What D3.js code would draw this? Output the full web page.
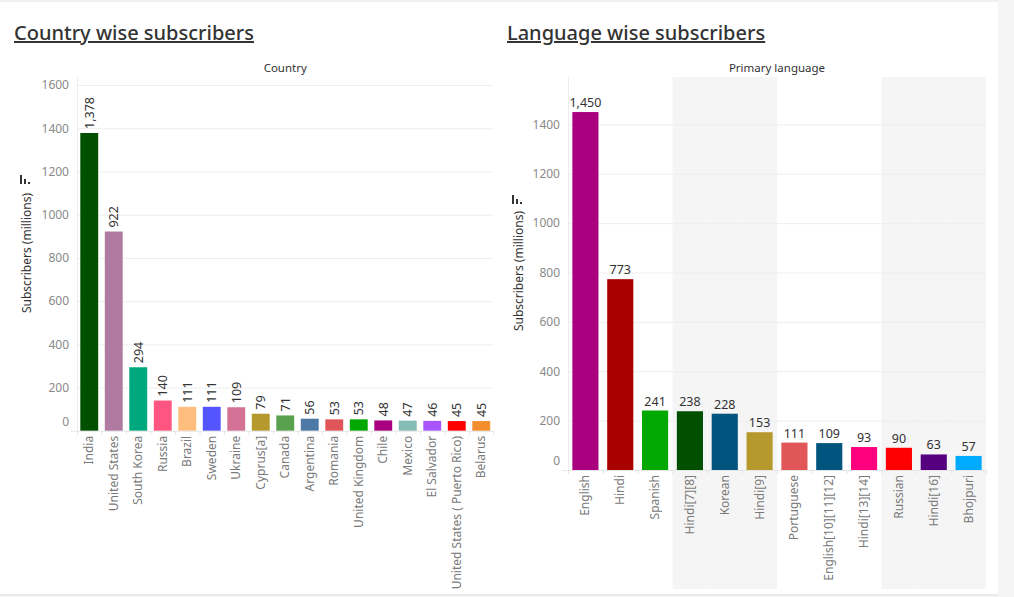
<!DOCTYPE html>
<html><head><meta charset="utf-8">
<script src="https://cdn.jsdelivr.net/npm/d3@7/dist/d3.min.js"></script>
<style>
html,body{margin:0;padding:0;background:#fff;}
svg{display:block;font-family:"Noto Sans",sans-serif;}
</style></head><body>
<svg id="c" width="1014" height="597"></svg>
<script>
const countries = ["India","United States","South Korea","Russia","Brazil","Sweden","Ukraine","Cyprus[a]","Canada","Argentina","Romania","United Kingdom","Chile","Mexico","El Salvador","United States ( Puerto Rico)","Belarus"];
const countryValues = [1378,922,294,140,111,111,109,79,71,56,53,53,48,47,46,45,45];
const countryColors = ["#005000","#b07aa1","#00a87e","#ff5580","#ffbe7d","#5555ff","#d37295","#b6992d","#59a14f","#4e79a7","#e15759","#00a800","#a8007e","#86bcb6","#a855ff","#ff0000","#f28e2b"];
const countryTicks = [0,200,400,600,800,1000,1200,1400,1600];

const languages = ["English","Hindi","Spanish","Hindi[7][8]","Korean","Hindi[9]","Portuguese","English[10][11][12]","Hindi[13][14]","Russian","Hindi[16]","Bhojpuri"];
const languageValues = [1450,773,241,238,228,153,111,109,93,90,63,57];
const languageColors = ["#a8007e","#a80000","#00a800","#005000","#00557f","#b6992d","#e15759","#00557f","#ff007f","#ff0000","#55007f","#00aaff"];
const languageTicks = [0,200,400,600,800,1000,1200,1400];
const languageShaded = [3,4,5,9,10,11];

const svg = d3.select("#c");
// page frame
svg.append("rect").attr("x",0).attr("y",0).attr("width",1014).attr("height",2).attr("fill","#f0f0f0");
svg.append("rect").attr("x",998).attr("y",0).attr("width",16).attr("height",597).attr("fill","#f5f5f5");
svg.append("rect").attr("x",0).attr("y",594.5).attr("width",998).attr("height",1).attr("fill","#cfcfcf");
svg.append("rect").attr("x",0).attr("y",595.5).attr("width",998).attr("height",2).attr("fill","#f3f3f3");

function chart(o){
  const g = svg.append("g");
  // title
  g.append("text").attr("x",o.titleX).attr("y",40).attr("font-size",20).attr("fill","#333")
    .attr("font-weight",500).attr("text-decoration","underline").text(o.title);
  const x = d3.scaleBand().domain(o.cats).range([o.x0,o.x1]).paddingInner(o.pad).paddingOuter(o.pad/2);
  const y = d3.scaleLinear().domain([0,o.ymax]).range([o.yb,77]);
  // header
  g.append("text").attr("x",(o.x0+o.x1)/2).attr("y",72).attr("text-anchor","middle")
    .attr("font-size",11.5).attr("fill","#333").text(o.header);
  // shaded bands
  if(o.shaded){
    g.selectAll(".sh").data(o.shaded).enter().append("rect")
      .attr("x",i=>x.step()*i+o.x0).attr("y",77).attr("width",x.step()).attr("height",589-77).attr("fill","#f5f5f5");
  }
  // grid
  g.selectAll(".gl").data(o.ticks.filter(t=>t>0)).enter().append("line")
    .attr("x1",o.x0).attr("x2",o.x1).attr("y1",d=>y(d)+0.5).attr("y2",d=>y(d)+0.5)
    .attr("stroke","#eeeeee").attr("stroke-width",1);
  g.append("line").attr("x1",o.x0+0.5).attr("x2",o.x0+0.5).attr("y1",77).attr("y2",o.yb).attr("stroke","#ececec");
  // y axis
  const ya = d3.axisLeft(y).tickValues(o.ticks).tickSize(0).tickPadding(0).tickFormat(d3.format("d"));
  const yg = g.append("g").attr("transform",`translate(${o.x0-8},0)`).call(ya);
  yg.select(".domain").remove();
  yg.selectAll("text").attr("font-size",12).attr("fill","#8a8a8a").attr("font-family","Noto Sans")
    .attr("dy",d=>d===0?"-0.45em":"0.32em");
  // y title
  g.append("text").attr("transform",`translate(${o.ytx},${o.yty}) rotate(-90)`).attr("text-anchor","middle")
    .attr("font-size",12).attr("fill","#333").text("Subscribers (millions)");
  // sort icon
  const ic = g.append("g").attr("transform",`translate(${o.iconX},${o.iconY})`);
  [[0,9],[4,5],[8,2]].forEach(([dx,h])=>ic.append("rect").attr("x",dx).attr("y",9-h).attr("width",2).attr("height",h).attr("fill","#333"));
  // bars
  g.selectAll(".bar").data(o.vals).enter().append("rect")
    .attr("x",(d,i)=>x(o.cats[i])).attr("width",x.bandwidth())
    .attr("y",d=>y(d)).attr("height",d=>o.yb-y(d)).attr("fill",(d,i)=>o.colors[i]);
  // x axis
  const xa = d3.axisBottom(x).tickSize(0).tickPadding(0);
  const xg = g.append("g").attr("transform",`translate(0,${o.yb})`).call(xa);
  xg.select(".domain").remove();
  xg.selectAll("text").attr("font-size",12).attr("fill","#7a7a7a").attr("font-family","Noto Sans")
    .attr("text-anchor","end").attr("dy",0)
    .attr("transform","translate(4,5) rotate(-90)");
  g.append("line").attr("x1",o.x0-6).attr("x2",o.x1).attr("y1",o.yb+0.5).attr("y2",o.yb+0.5).attr("stroke","#e6e6e6");
  g.selectAll(".tk").data(d3.range(o.cats.length+1)).enter().append("line")
    .attr("x1",i=>o.x0+x.step()*i+0.5).attr("x2",i=>o.x0+x.step()*i+0.5)
    .attr("y1",o.yb).attr("y2",o.yb+4).attr("stroke","#e6e6e6");
  // value labels
  const fmt = d3.format(",");
  if(o.rotLabels){
    g.selectAll(".vl").data(o.vals).enter().append("text")
      .attr("transform",(d,i)=>`translate(${x(o.cats[i])+x.bandwidth()/2+4.5},${y(d)-4}) rotate(-90)`)
      .attr("font-size",12.5).attr("fill","#333").text(d=>fmt(d));
  } else {
    g.selectAll(".vl").data(o.vals).enter().append("text")
      .attr("x",(d,i)=>x(o.cats[i])+x.bandwidth()/2).attr("y",d=>y(d)-5)
      .attr("text-anchor","middle").attr("font-size",12.5).attr("fill","#333").text(d=>fmt(d));
  }
}

chart({title:"Country wise subscribers",titleX:14,header:"Country",cats:countries,vals:countryValues,colors:countryColors,
  ticks:countryTicks,ymax:1637,x0:77,x1:493.5,yb:430.8,pad:0.27,rotLabels:true,ytx:30.5,yty:253,iconX:20,iconY:175});
chart({title:"Language wise subscribers",titleX:507,header:"Primary language",cats:languages,vals:languageValues,colors:languageColors,
  ticks:languageTicks,ymax:1592,x0:568,x1:986,yb:470,pad:0.25,rotLabels:false,ytx:522.5,yty:271,iconX:512,iconY:195,shaded:languageShaded});
</script>
</body></html>
